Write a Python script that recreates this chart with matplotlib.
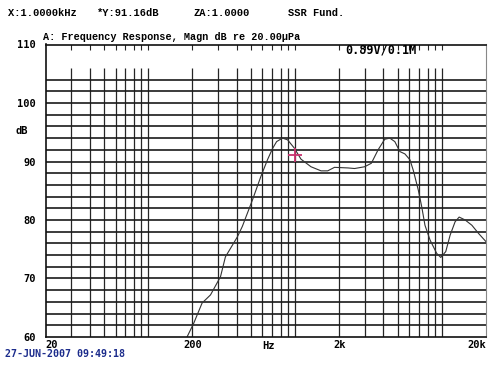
import matplotlib
matplotlib.use("Agg")
import matplotlib.pyplot as plt
import numpy as np

freq = [184, 204, 233, 266, 311, 336, 405, 438, 513, 585, 650, 703, 750, 822, 891,
        989, 1099, 1286, 1506, 1671, 1858, 2295, 2547, 2980, 3313, 3683, 4086, 4424,
        4787, 5180, 5605, 6066, 6393, 6920, 7295, 7681, 8310, 9228, 9833, 10640,
        11390, 12320, 13130, 14430, 16030, 17800, 20000]
db = [60.0, 62.3, 65.8, 67.2, 70.3, 73.7, 77.1, 78.9, 83.4, 87.4, 90.3, 92.2, 93.4,
      94.0, 93.7, 92.3, 90.4, 89.1, 88.4, 88.4, 89.0, 88.9, 88.8, 89.1, 89.7, 92.0,
      93.8, 94.0, 93.4, 91.7, 91.3, 90.3, 88.5, 85.1, 82.3, 79.1, 76.6, 74.3, 73.6,
      74.6, 77.4, 79.7, 80.5, 80.0, 79.1, 77.7, 76.3]

cursor_f = [1000]
cursor_db = [91.16]

y_ticks = [60, 70, 80, 90, 100, 110]
x_ticks = [20, 200, 2000, 20000]
x_labels = ["20", "200", "2k", "20k"]

header = ["X:1.0000kHz", "*Y:91.16dB", "ZA:1.0000", "SSR Fund."]
header_x = [8, 97, 193, 288]

mono = "DejaVu Sans Mono"

fig = plt.figure(figsize=(4.94, 3.89), dpi=100)
ax = fig.add_axes([45.5 / 494, 52 / 389, 440.5 / 494, 292.5 / 389])
ax.set_xscale("log")
ax.set_xlim(20, 20000)
ax.set_ylim(60, 110)

# Grille : lignes verticales 30 Hz .. 10 kHz, horizontales tous les 2 dB
grid_f = [m * 10 ** d for d in (1, 2, 3) for m in range(1, 10)] + [10000]
grid_f = [f for f in grid_f if f > 20]
ax.vlines(grid_f, 60, 106, color="#262626", lw=0.9)
ax.vlines(grid_f, 109.1, 110, color="#262626", lw=0.8)
ax.hlines(np.arange(62, 105, 2), 20, 20000, color="#1a1a1a", lw=1.2)

# Courbe de réponse
ax.plot(freq, db, color="#333333", lw=0.8)
ax.plot(cursor_f, cursor_db, marker="+", ms=10, mew=1.3, color="#c8326e", ls="none")

ax.set_yticks(y_ticks)
ax.set_yticklabels([str(v) for v in y_ticks], fontfamily=mono, fontweight="bold", fontsize=7.5)
ax.set_xticks(x_ticks)
ax.set_xticklabels(x_labels, fontfamily=mono, fontweight="bold", fontsize=7.5)
ax.xaxis.set_minor_locator(matplotlib.ticker.NullLocator())
ax.tick_params(length=0, pad=2)
ax.tick_params(axis="y", pad=7)
labels = ax.get_xticklabels()
labels[0].set_horizontalalignment("left")
labels[-1].set_horizontalalignment("right")

for side in ["left", "bottom", "top"]:
    ax.spines[side].set_linewidth(1.2)
    ax.spines[side].set_color("#111111")
ax.spines["right"].set_color("#888888")
ax.spines["right"].set_linewidth(0.8)

ax.text(660, -0.012, "Hz", transform=ax.get_xaxis_transform(), ha="center", va="top",
        fontfamily=mono, fontweight="bold", fontsize=7.5)
ax.text(-0.04, 95.2, "dB", transform=ax.get_yaxis_transform(), ha="right", va="center",
        fontfamily=mono, fontweight="bold", fontsize=7.5)
ax.text(0.68, 109.0, "0.89V/0.1M", transform=ax.get_yaxis_transform(), ha="left",
        va="center", fontfamily=mono, fontweight="bold", fontsize=8.5)

# En-têtes
for txt, px in zip(header, header_x):
    fig.text(px / 494, 1 - 13 / 389, txt, ha="left", va="center",
             fontfamily="Liberation Mono", fontweight="bold", fontsize=7.5)
fig.text(43 / 494, 1 - 37 / 389, "A: Frequency Response, Magn dB re 20.00µPa",
         ha="left", va="center", fontfamily="Liberation Mono", fontweight="bold", fontsize=7.3)
fig.text(5 / 494, 1 - 354 / 389, "27-JUN-2007 09:49:18", ha="left", va="center",
         fontfamily=mono, fontweight="bold", fontsize=7.2, color="#1c2c8c")

fig.savefig("out.png", dpi=100)
